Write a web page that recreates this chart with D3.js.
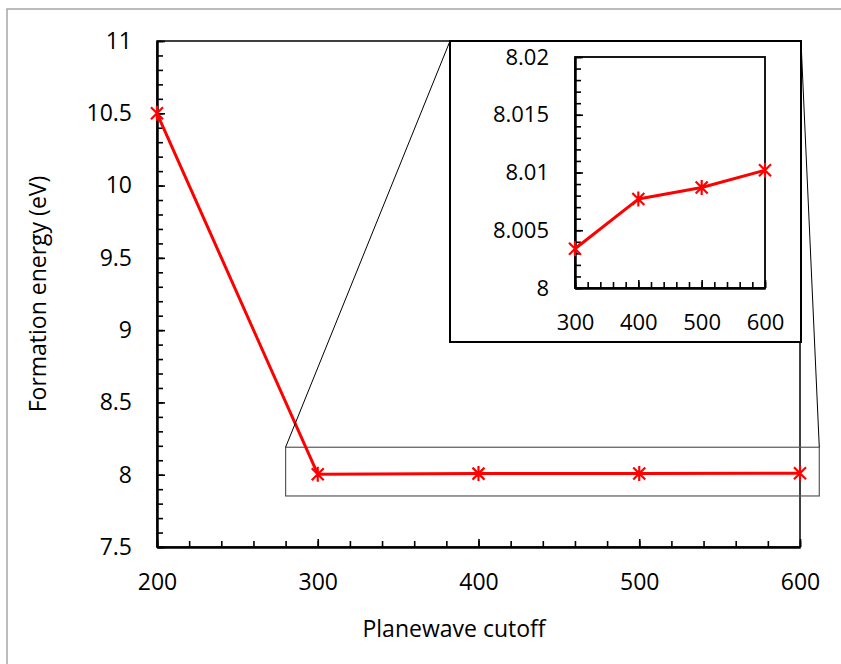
<!DOCTYPE html>
<html>
<head>
<meta charset="utf-8">
<script src="https://cdn.jsdelivr.net/npm/d3@7/dist/d3.min.js"></script>
<style>
  html, body { margin: 0; padding: 0; background: #fff; }
  svg { display: block; }
  text { font-family: "Open Sans", "Noto Sans", sans-serif; fill: #000; }
</style>
</head>
<body>
<svg id="chart" width="841" height="664"></svg>
<script>
// ---- data ----
const cutoffs = [200, 300, 400, 500, 600];
const energies = [10.5, 8.0034, 8.0077, 8.0087, 8.0102];
const insetCutoffs = [300, 400, 500, 600];
const insetEnergies = [8.0034, 8.0077, 8.0087, 8.0102];

const mainXTicks = [200, 300, 400, 500, 600];
const mainYTicks = [7.5, 8, 8.5, 9, 9.5, 10, 10.5, 11];
const insetXTicks = [300, 400, 500, 600];
const insetYTicks = [8, 8.005, 8.01, 8.015, 8.02];
const insetYLabels = ["8", "8.005", "8.01", "8.015", "8.02"];

const zoomBoxX = [280, 612];
const zoomBoxY = [7.853, 8.19];

const xTitle = "Planewave cutoff";
const yTitle = "Formation energy (eV)";

// ---- layout ----
const svg = d3.select("#chart");
const M = { left: 157, right: 800, top: 41, bottom: 547 };
const I = { left: 450, right: 801, top: 41, bottom: 342 };      // inset box
const IP = { left: 575, right: 765, top: 57, bottom: 288 };     // inset plot

const x = d3.scaleLinear().domain([200, 600]).range([M.left, M.right]);
const y = d3.scaleLinear().domain([7.5, 11]).range([M.bottom, M.top]);
const ix = d3.scaleLinear().domain([300, 600]).range([IP.left, IP.right]);
const iy = d3.scaleLinear().domain([8, 8.02]).range([IP.bottom, IP.top]);

const RED = "#ff0000";
const starPath = "M-6,-6L6,6M-6,6L6,-6M0,-7.5L0,7.5";

// outer chart frame
svg.append("rect").attr("x", 7).attr("y", 9).attr("width", 850).attr("height", 680)
  .attr("fill", "none").attr("stroke", "#a6a6a6").attr("stroke-width", 1.5);

// main plot frame (top / right)
svg.append("rect").attr("x", M.left).attr("y", M.top)
  .attr("width", M.right - M.left).attr("height", M.bottom - M.top)
  .attr("fill", "none").attr("stroke", "#000").attr("stroke-width", 1.5);

function styleAxis(g, fontSize) {
  g.select(".domain").attr("stroke", "#000").attr("stroke-width", 2);
  g.selectAll(".tick line").attr("stroke", "#000").attr("stroke-width", 1.6);
  g.selectAll(".tick text").attr("font-size", fontSize).attr("fill", "#000")
    .style("font-family", '"Open Sans", sans-serif');
  g.attr("font-family", null);
}

// main minor ticks
svg.append("g").attr("transform", `translate(0,${M.bottom})`)
  .call(d3.axisBottom(x).tickValues(d3.range(200, 601, 20)).tickSize(-6).tickSizeOuter(0).tickFormat(""))
  .call(g => styleAxis(g, 23));
svg.append("g").attr("transform", `translate(${M.left},0)`)
  .call(d3.axisLeft(y).tickValues(d3.range(75, 111, 1).map(d => d / 10)).tickSize(-6).tickSizeOuter(0).tickFormat(""))
  .call(g => styleAxis(g, 23));
// main major axes
svg.append("g").attr("transform", `translate(0,${M.bottom})`)
  .call(d3.axisBottom(x).tickValues(mainXTicks).tickSize(-8).tickSizeOuter(0).tickPadding(27).tickFormat(d3.format("d")))
  .call(g => styleAxis(g, 23));
svg.append("g").attr("transform", `translate(${M.left},0)`)
  .call(d3.axisLeft(y).tickValues(mainYTicks).tickSize(-8).tickSizeOuter(0).tickPadding(25).tickFormat(d => String(d)))
  .call(g => styleAxis(g, 23));

// axis titles
svg.append("text").attr("x", 454).attr("y", 637)
  .attr("text-anchor", "middle").attr("font-size", 23).text(xTitle);
svg.append("text").attr("transform", `translate(46,${(M.top + M.bottom) / 2}) rotate(-90)`)
  .attr("text-anchor", "middle").attr("font-size", 23).text(yTitle);

// zoom rectangle
svg.append("rect")
  .attr("x", x(zoomBoxX[0])).attr("y", y(zoomBoxY[1]))
  .attr("width", x(zoomBoxX[1]) - x(zoomBoxX[0])).attr("height", y(zoomBoxY[0]) - y(zoomBoxY[1]))
  .attr("fill", "none").attr("stroke", "#595959").attr("stroke-width", 1.2);

// main series
const line = d3.line().x((d, i) => x(cutoffs[i])).y(d => y(d));
svg.append("path").datum(energies).attr("d", line)
  .attr("fill", "none").attr("stroke", RED).attr("stroke-width", 3).attr("stroke-linejoin", "round");
svg.append("g").selectAll("path").data(energies).join("path")
  .attr("transform", (d, i) => `translate(${x(cutoffs[i])},${y(d)})`)
  .attr("d", starPath).attr("stroke", RED).attr("stroke-width", 2.2).attr("fill", "none");

// connector lines
svg.append("line").attr("x1", x(zoomBoxX[0])).attr("y1", y(zoomBoxY[1])).attr("x2", I.left).attr("y2", I.top)
  .attr("stroke", "#000").attr("stroke-width", 1);
svg.append("line").attr("x1", x(zoomBoxX[1])).attr("y1", y(zoomBoxY[1])).attr("x2", I.right).attr("y2", I.top)
  .attr("stroke", "#000").attr("stroke-width", 1);

// inset box
svg.append("rect").attr("x", I.left).attr("y", I.top)
  .attr("width", I.right - I.left).attr("height", I.bottom - I.top)
  .attr("fill", "#fff").attr("stroke", "#000").attr("stroke-width", 2);

// inset plot frame
svg.append("rect").attr("x", IP.left).attr("y", IP.top)
  .attr("width", IP.right - IP.left).attr("height", IP.bottom - IP.top)
  .attr("fill", "none").attr("stroke", "#000").attr("stroke-width", 1.8);

// inset minor ticks
svg.append("g").attr("transform", `translate(0,${IP.bottom})`)
  .call(d3.axisBottom(ix).tickValues(d3.range(300, 601, 20)).tickSize(-6).tickSizeOuter(0).tickFormat(""))
  .call(g => styleAxis(g, 22));
svg.append("g").attr("transform", `translate(${IP.left},0)`)
  .call(d3.axisLeft(iy).tickValues(d3.range(0, 21, 1).map(d => 8 + d / 1000)).tickSize(-6).tickSizeOuter(0).tickFormat(""))
  .call(g => styleAxis(g, 22));
// inset major axes
svg.append("g").attr("transform", `translate(0,${IP.bottom})`)
  .call(d3.axisBottom(ix).tickValues(insetXTicks).tickSize(-8).tickSizeOuter(0).tickPadding(26).tickFormat(d3.format("d")))
  .call(g => styleAxis(g, 22));
svg.append("g").attr("transform", `translate(${IP.left},0)`)
  .call(d3.axisLeft(iy).tickValues(insetYTicks).tickSize(-8).tickSizeOuter(0).tickPadding(26)
    .tickFormat((d, i) => insetYLabels[i]))
  .call(g => styleAxis(g, 22));

// inset series
const iline = d3.line().x((d, i) => ix(insetCutoffs[i])).y(d => iy(d));
svg.append("path").datum(insetEnergies).attr("d", iline)
  .attr("fill", "none").attr("stroke", RED).attr("stroke-width", 3).attr("stroke-linejoin", "round");
svg.append("g").selectAll("path").data(insetEnergies).join("path")
  .attr("transform", (d, i) => `translate(${ix(insetCutoffs[i])},${iy(d)})`)
  .attr("d", starPath).attr("stroke", RED).attr("stroke-width", 2.2).attr("fill", "none");
</script>
</body>
</html>
